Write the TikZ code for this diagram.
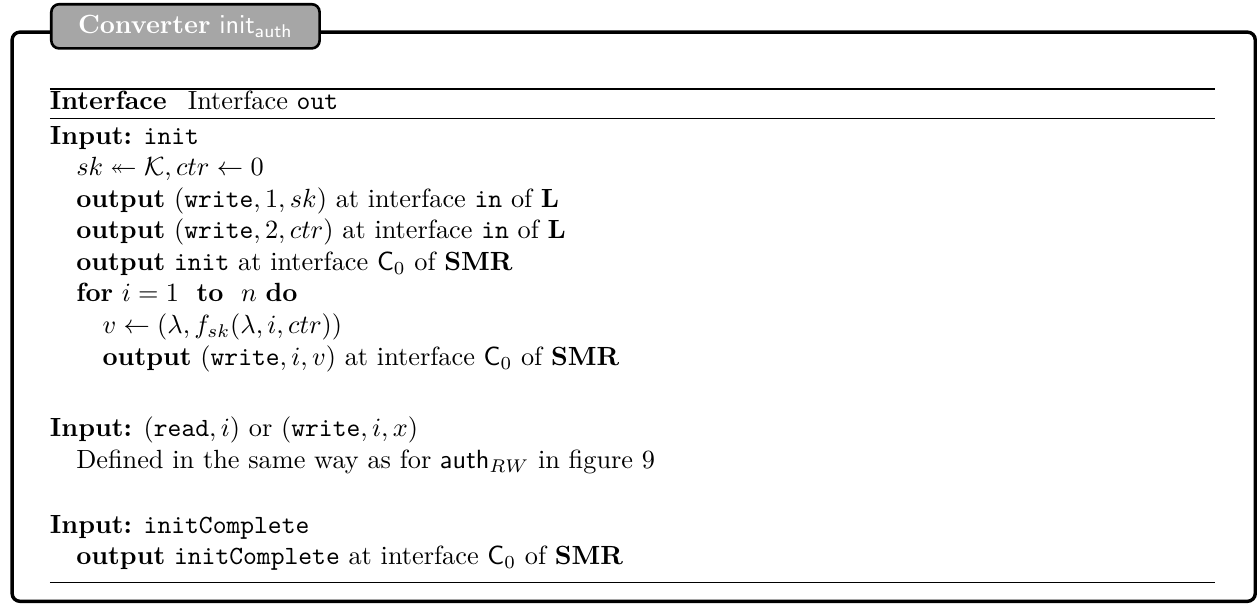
\documentclass[tikz,border=0pt]{standalone}
\usepackage{amsmath,amssymb}
\tikzset{
  x=1pt,y=-1pt,
  txt/.style={anchor=base west,inner sep=0pt,outer sep=0pt},
  tabbox/.style={draw=black,line width=1pt,fill=black!35,rounded corners=3pt,
    anchor=north west,minimum width=102pt,minimum height=16.8pt,inner sep=0pt,text=white},
  frame/.style={draw=black,line width=1.3pt,rounded corners=3pt},
  thickrule/.style={line width=0.8pt},
  thinrule/.style={line width=0.4pt}
}
\begin{document}
\begin{tikzpicture}
\useasboundingbox (0,0) rectangle (479,230.4);
% outer frame
\draw[frame] (4.6,12.2) rectangle (477.2,228.6);
% title tab
\node[tabbox] (tab) at (19,1.1) {\textbf{Converter} $\mathsf{init}_{\mathsf{auth}}$};
% rules
\coordinate (r1a) at (19,33.8); \coordinate (r1b) at (462,33.8);
\coordinate (r2a) at (19,45.2); \coordinate (r2b) at (462,45.2);
\coordinate (r3a) at (19,221.3); \coordinate (r3b) at (462,221.3);
\draw[thickrule] (r1a) -- (r1b);
\draw[thinrule] (r2a) -- (r2b);
\draw[thinrule] (r3a) -- (r3b);
% caption
\node[txt] (cap) at (19,41.6) {\textbf{Interface}\hspace{8pt}Interface \texttt{out}};
% body
\node[txt] (l1) at (19,54.8) {\textbf{Input:} \texttt{init}};
\node[txt] (l2) at (29,66.8) {$sk \twoheadleftarrow \mathcal{K}, ctr \leftarrow 0$};
\node[txt] (l3) at (29,78.8) {\textbf{output} $(\texttt{write}, 1, sk)$ at interface \texttt{in} of $\mathbf{L}$};
\node[txt] (l4) at (29,90.8) {\textbf{output} $(\texttt{write}, 2, ctr)$ at interface \texttt{in} of $\mathbf{L}$};
\node[txt] (l5) at (29,102.8) {\textbf{output} \texttt{init} at interface $\mathsf{C}_0$ of $\mathbf{SMR}$};
\node[txt] (l6) at (29,114.8) {\textbf{for} $i = 1$ \ \textbf{to} \ $n$ \textbf{do}};
\node[txt] (l7) at (39,126.8) {$v \leftarrow (\lambda, f_{sk}(\lambda, i, ctr))$};
\node[txt] (l8) at (39,138.8) {\textbf{output} $(\texttt{write}, i, v)$ at interface $\mathsf{C}_0$ of $\mathbf{SMR}$};
\node[txt] (l9) at (19,166) {\textbf{Input:} $(\texttt{read}, i)$ or $(\texttt{write}, i, x)$};
\node[txt] (l10) at (29,178) {Defined in the same way as for $\mathsf{auth}_{RW}$ in figure 9};
\node[txt] (l11) at (19,202.7) {\textbf{Input:} \texttt{initComplete}};
\node[txt] (l12) at (29,214.7) {\textbf{output} \texttt{initComplete} at interface $\mathsf{C}_0$ of $\mathbf{SMR}$};
\end{tikzpicture}
\end{document}
